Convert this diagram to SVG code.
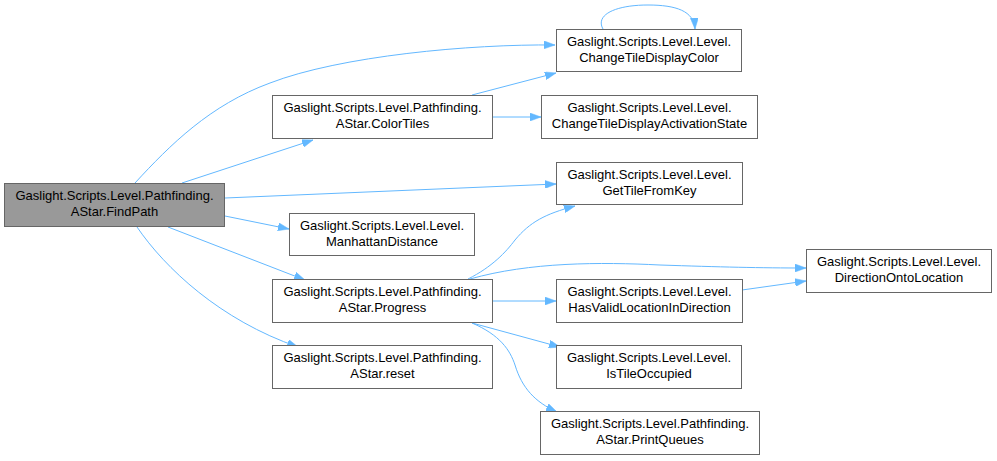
<svg xmlns="http://www.w3.org/2000/svg" width="997" height="461" viewBox="0 0 997 461">
<style>
.n rect{fill:#fff;stroke:#666;stroke-width:1}
.n.hl rect{fill:#999}
.n text{font-family:"Liberation Sans",Arial,sans-serif;font-size:13px;fill:#000;text-anchor:middle}
.e path{fill:none;stroke:#63b8ff;stroke-width:1;marker-end:url(#ah)}
</style>
<defs>
<marker id="ah" viewBox="0 0 11 8" refX="11" refY="4" markerWidth="11" markerHeight="8" markerUnits="userSpaceOnUse" orient="auto">
<path d="M0,0 L11,4 L0,8 z" fill="#63b8ff" stroke="#63b8ff" stroke-width="0.5"/>
</marker>
</defs>
<g id="edges" class="e">
<path d="M135,183 C170,145 210,105 270,83 C340,56 470,44 555,45"/>
<path d="M182,183 L313,140"/>
<path d="M225,198 L556,184"/>
<path d="M225,216 L289,229"/>
<path d="M168,227 L305,280"/>
<path d="M137,227 C165,268 220,320 298,347"/>
<path d="M472,95 L556,73"/>
<path d="M492,117 L541,117"/>
<path d="M603,29 C595,15 615,5 648,5 C676,5 694,11 695,29"/>
<path d="M468,279 C492,267 506,252 515,240 C530,222 545,214 575,206"/>
<path d="M470,279 C530,262 600,262 660,265 C720,267 760,268 806,268"/>
<path d="M492,301 L556,301"/>
<path d="M742,290 L806,281"/>
<path d="M472,323 L560,347"/>
<path d="M472,323 C500,335 510,350 515,365 C522,388 535,402 557,412"/>
</g>
<g id="node_findpath" class="n hl"><rect x="4.5" y="183.5" width="220" height="43"/><text x="114.5" y="200">Gaslight.Scripts.Level.Pathfinding.</text><text x="114.5" y="216">AStar.FindPath</text></g>
<g id="node_colortiles" class="n"><rect x="272.5" y="95.5" width="220" height="43"/><text x="382.5" y="112">Gaslight.Scripts.Level.Pathfinding.</text><text x="382.5" y="128">AStar.ColorTiles</text></g>
<g id="node_manhattan" class="n"><rect x="289.5" y="213.5" width="185" height="42"/><text x="382" y="230">Gaslight.Scripts.Level.Level.</text><text x="382" y="246">ManhattanDistance</text></g>
<g id="node_progress" class="n"><rect x="272.5" y="279.5" width="220" height="43"/><text x="382.5" y="296">Gaslight.Scripts.Level.Pathfinding.</text><text x="382.5" y="312">AStar.Progress</text></g>
<g id="node_reset" class="n"><rect x="272.5" y="345.5" width="220" height="43"/><text x="382.5" y="362">Gaslight.Scripts.Level.Pathfinding.</text><text x="382.5" y="378">AStar.reset</text></g>
<g id="node_changecolor" class="n"><rect x="556.5" y="29.5" width="185" height="42"/><text x="649" y="46">Gaslight.Scripts.Level.Level.</text><text x="649" y="62">ChangeTileDisplayColor</text></g>
<g id="node_activation" class="n"><rect x="541.5" y="95.5" width="216" height="43"/><text x="649.5" y="112">Gaslight.Scripts.Level.Level.</text><text x="649.5" y="128">ChangeTileDisplayActivationState</text></g>
<g id="node_gettile" class="n"><rect x="556.5" y="162.5" width="186" height="42"/><text x="649.5" y="179">Gaslight.Scripts.Level.Level.</text><text x="649.5" y="195">GetTileFromKey</text></g>
<g id="node_hasvalid" class="n"><rect x="556.5" y="279.5" width="186" height="43"/><text x="649.5" y="296">Gaslight.Scripts.Level.Level.</text><text x="649.5" y="312">HasValidLocationInDirection</text></g>
<g id="node_occupied" class="n"><rect x="556.5" y="345.5" width="185" height="43"/><text x="649" y="362">Gaslight.Scripts.Level.Level.</text><text x="649" y="378">IsTileOccupied</text></g>
<g id="node_printqueues" class="n"><rect x="540.5" y="411.5" width="219" height="43"/><text x="650" y="428">Gaslight.Scripts.Level.Pathfinding.</text><text x="650" y="444">AStar.PrintQueues</text></g>
<g id="node_direction" class="n"><rect x="806.5" y="249.5" width="185" height="43"/><text x="899" y="266">Gaslight.Scripts.Level.Level.</text><text x="899" y="282">DirectionOntoLocation</text></g>
</svg>
